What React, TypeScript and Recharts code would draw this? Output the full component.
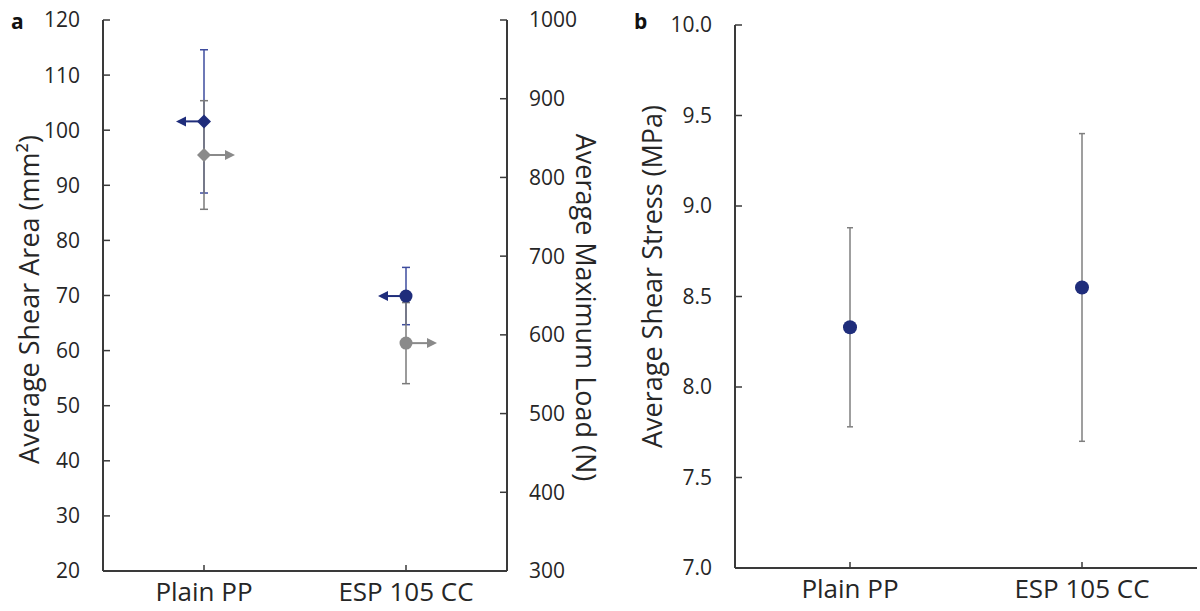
import React from 'react'
import { ComposedChart, Scatter, ErrorBar, XAxis, YAxis } from 'recharts'

// Two panels: (a) shear area (left axis) + max load (right axis), (b) shear stress.

const categories = ['Plain PP', 'ESP 105 CC']

const shearArea = [101.6, 69.9] // mm², left axis
const shearAreaErr = [13.0, 5.2]
const maxLoad = [828.5, 589.5] // N, right axis
const maxLoadErr = [69, 51.5]
const shearStress = [8.33, 8.55] // MPa
const shearStressErr = [0.55, 0.85]

const areaTicks = [20, 30, 40, 50, 60, 70, 80, 90, 100, 110, 120]
const loadTicks = [300, 400, 500, 600, 700, 800, 900, 1000]
const stressTicks = [7.0, 7.5, 8.0, 8.5, 9.0, 9.5, 10.0]

const panelA = categories.map((cat, i) => ({
  cat,
  area: shearArea[i],
  areaErr: shearAreaErr[i],
  load: maxLoad[i],
  loadErr: maxLoadErr[i],
}))

const panelB = categories.map((cat, i) => ({
  cat,
  stress: shearStress[i],
  stressErr: shearStressErr[i],
}))

const NAVY = '#1f2d7b'
const GREY = '#8a8a8a'
const AXIS = '#3a3a3a'
const TEXT = '#262626'
const FONT = "'Open Sans', sans-serif"

const tickStyle = { fill: TEXT, fontSize: 21 }
const catTickStyle = { fill: TEXT, fontSize: 26 }

// marker with an arrow pointing at the axis the series belongs to
function ArrowMarker(props: any) {
  const { cx, cy, payload, color, dir } = props
  if (cx == null || cy == null) return null
  const first = payload?.cat === categories[0]
  const len = dir < 0 ? 28 : 31
  const tip = cx + dir * len
  const head = 10
  const base = tip - dir * head
  return (
    <g>
      <line x1={cx} y1={cy} x2={base} y2={cy} stroke={color} strokeWidth={2} />
      <polygon points={`${tip},${cy} ${base},${cy - 5} ${base},${cy + 5}`} fill={color} />
      {first ? (
        <polygon points={`${cx - 7},${cy} ${cx},${cy - 7} ${cx + 7},${cy} ${cx},${cy + 7}`} fill={color} />
      ) : (
        <circle cx={cx} cy={cy} r={6.5} fill={color} />
      )}
    </g>
  )
}

const vTitle = (text: string, dx: number, dy: number, angle: number) => (props: any) => {
  const vb = props.viewBox || {}
  const x = vb.x + dx
  const y = vb.y + vb.height / 2 + dy
  return (
    <text
      x={x}
      y={y}
      transform={`rotate(${angle} ${x} ${y})`}
      textAnchor="middle"
      dominantBaseline="central"
      fontSize={27}
      fill={TEXT}
    >
      {text}
    </text>
  )
}

function PanelA() {
  return (
    <ComposedChart width={620} height={611} data={panelA} margin={{ top: 20, right: 0, bottom: 0, left: 0 }}>
      <XAxis
        dataKey="cat"
        height={40}
        padding={{ left: 101, right: 101 }}
        tickLine={{ stroke: AXIS, strokeWidth: 1.5 }}
        tickSize={-6}
        tickMargin={18}
        axisLine={{ stroke: AXIS, strokeWidth: 2 }}
        tick={catTickStyle}
        interval={0}
      />
      <XAxis xAxisId="top" dataKey="cat" orientation="top" height={0} tick={false} tickLine={false} axisLine={{ stroke: AXIS, strokeWidth: 2 }} />
      <YAxis
        yAxisId="left"
        width={103}
        domain={[20, 120]}
        ticks={areaTicks}
        interval={0}
        tickSize={-7}
        tickMargin={30}
        tickLine={{ stroke: AXIS, strokeWidth: 1.5 }}
        axisLine={{ stroke: AXIS, strokeWidth: 2 }}
        tick={tickStyle}
        label={vTitle('Average Shear Area (mm²)', 28, 4, -90)}
      />
      <YAxis
        yAxisId="right"
        orientation="right"
        width={113}
        domain={[300, 1000]}
        ticks={loadTicks}
        interval={0}
        tickSize={-7}
        tickMargin={29}
        tickLine={{ stroke: AXIS, strokeWidth: 1.5 }}
        axisLine={{ stroke: AXIS, strokeWidth: 2 }}
        tick={tickStyle}
        label={vTitle('Average Maximum Load (N)', 79, 12, 90)}
      />
      <Scatter
        yAxisId="left"
        dataKey="area"
        isAnimationActive={false}
        shape={(p: any) => <ArrowMarker {...p} color={NAVY} dir={-1} />}
      >
        <ErrorBar dataKey="areaErr" direction="y" width={4} stroke="#3e4c9e" strokeWidth={1.5} isAnimationActive={false} />
      </Scatter>
      <Scatter
        yAxisId="right"
        dataKey="load"
        isAnimationActive={false}
        shape={(p: any) => <ArrowMarker {...p} color={GREY} dir={1} />}
      >
        <ErrorBar dataKey="loadErr" direction="y" width={4} stroke="#7a7a7a" strokeWidth={1.5} isAnimationActive={false} />
      </Scatter>
    </ComposedChart>
  )
}

function PanelB() {
  return (
    <ComposedChart width={580} height={611} data={panelB} margin={{ top: 25, right: 3, bottom: 0, left: 0 }}>
      <XAxis
        dataKey="cat"
        height={43}
        padding={{ left: 115, right: 115 }}
        tickLine={{ stroke: AXIS, strokeWidth: 1.5 }}
        tickSize={-6}
        tickMargin={18}
        axisLine={{ stroke: AXIS, strokeWidth: 2 }}
        tick={catTickStyle}
        interval={0}
      />
      <XAxis xAxisId="top" dataKey="cat" orientation="top" height={0} tick={false} tickLine={false} axisLine={{ stroke: AXIS, strokeWidth: 2 }} />
      <YAxis
        yAxisId="s"
        width={115}
        domain={[7, 10]}
        ticks={stressTicks}
        interval={0}
        tickSize={-7}
        tickMargin={30}
        tickLine={{ stroke: AXIS, strokeWidth: 1.5 }}
        axisLine={{ stroke: AXIS, strokeWidth: 2 }}
        tick={tickStyle}
        tickFormatter={(v: number) => v.toFixed(1)}
        label={vTitle('Average Shear Stress (MPa)', 31, -20, -90)}
      />
      <YAxis yAxisId="border" orientation="right" width={0} domain={[7, 10]} tick={false} tickLine={false} axisLine={{ stroke: AXIS, strokeWidth: 2 }} />
      <Scatter
        yAxisId="s"
        dataKey="stress"
        isAnimationActive={false}
        shape={(p: any) => (p.cx == null ? null : <circle cx={p.cx} cy={p.cy} r={7} fill={NAVY} />)}
      >
        <ErrorBar dataKey="stressErr" direction="y" width={3} stroke="#7f7f7f" strokeWidth={1.5} isAnimationActive={false} />
      </Scatter>
    </ComposedChart>
  )
}

export default function App() {
  return (
    <div style={{ position: 'absolute', left: 0, top: 0, width: 1200, height: 611, background: '#fff', fontFamily: FONT }}>
      <div style={{ position: 'absolute', left: 0, top: 0 }}>
        <PanelA />
      </div>
      <div style={{ position: 'absolute', left: 620, top: 0 }}>
        <PanelB />
      </div>
      <svg width={1200} height={611} style={{ position: 'absolute', left: 0, top: 0, pointerEvents: 'none' }}>
        <text x={11} y={29} fontSize={21} fontWeight="bold" fill="#111">a</text>
        <text x={634} y={29} fontSize={21} fontWeight="bold" fill="#111">b</text>
      </svg>
    </div>
  )
}
